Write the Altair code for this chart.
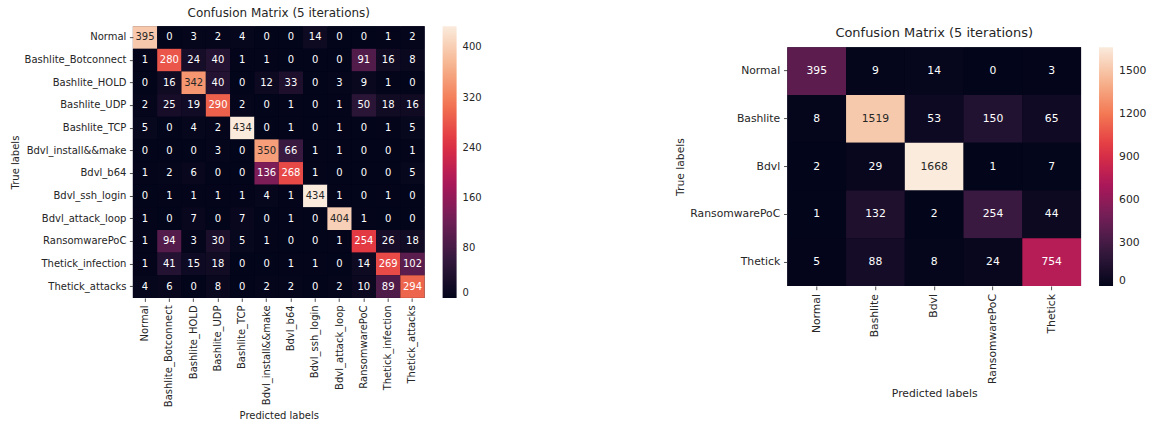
import altair as alt
import pandas as pd

FONT = "DejaVu Sans"
INK = "#262626"

# Fine-grained classes (12 x 12)
fine_labels = [
    "Normal", "Bashlite_Botconnect", "Bashlite_HOLD", "Bashlite_UDP",
    "Bashlite_TCP", "Bdvl_install&&make", "Bdvl_b64", "Bdvl_ssh_login",
    "Bdvl_attack_loop", "RansomwarePoC", "Thetick_infection", "Thetick_attacks",
]
fine_counts = [
    [395, 0, 3, 2, 4, 0, 0, 14, 0, 0, 1, 2],
    [1, 280, 24, 40, 1, 1, 0, 0, 0, 91, 16, 8],
    [0, 16, 342, 40, 0, 12, 33, 0, 3, 9, 1, 0],
    [2, 25, 19, 290, 2, 0, 1, 0, 1, 50, 18, 16],
    [5, 0, 4, 2, 434, 0, 1, 0, 1, 0, 1, 5],
    [0, 0, 0, 3, 0, 350, 66, 1, 1, 0, 0, 1],
    [1, 2, 6, 0, 0, 136, 268, 1, 0, 0, 0, 5],
    [0, 1, 1, 1, 1, 4, 1, 434, 1, 0, 1, 0],
    [1, 0, 7, 0, 7, 0, 1, 0, 404, 1, 0, 0],
    [1, 94, 3, 30, 5, 1, 0, 0, 1, 254, 26, 18],
    [1, 41, 15, 18, 0, 0, 1, 1, 0, 14, 269, 102],
    [4, 6, 0, 8, 0, 2, 2, 0, 2, 10, 89, 294],
]
fine_ticks = [0, 80, 160, 240, 320, 400]

# Family-level classes (5 x 5)
family_labels = ["Normal", "Bashlite", "Bdvl", "RansomwarePoC", "Thetick"]
family_counts = [
    [395, 9, 14, 0, 3],
    [8, 1519, 53, 150, 65],
    [2, 29, 1668, 1, 7],
    [1, 132, 2, 254, 44],
    [5, 88, 8, 24, 754],
]
family_ticks = [0, 300, 600, 900, 1200, 1500]

# "rocket" colour ramp sampled at sevenths of the value range
rocket = ["#03051a", "#35193e", "#701f57", "#ad1759",
          "#e13342", "#f37651", "#f6b48f", "#faebdd"]


def long_form(labels, counts):
    rows = []
    for i, t in enumerate(labels):
        for j, p in enumerate(labels):
            rows.append({"true": t, "pred": p, "count": counts[i][j]})
    return pd.DataFrame(rows)


def heatmap(labels, counts, ticks, width, height, fs, title_fs, tick_len):
    df = long_form(labels, counts)
    vmax = max(max(r) for r in counts)
    domain = [vmax * k / 7 for k in range(8)]
    ramp = alt.Scale(domain=domain, range=rocket, interpolate="rgb")

    axis_common = dict(
        domain=False, grid=False, ticks=True, tickSize=tick_len,
        tickWidth=0.8, tickColor=INK, labelPadding=tick_len,
        labelFont=FONT, labelFontSize=fs, labelColor=INK, labelLimit=0,
        labelOverlap=False, titleFont=FONT, titleFontSize=fs,
        titleFontWeight="normal", titleColor=INK, titlePadding=4,
    )
    base = alt.Chart(df).encode(
        x=alt.X("pred:N", sort=labels, title="Predicted labels",
                axis=alt.Axis(labelAngle=270, **axis_common)),
        y=alt.Y("true:N", sort=labels, title="True labels",
                axis=alt.Axis(**axis_common)),
    )
    cells = base.mark_rect().encode(
        color=alt.Color(
            "count:Q",
            scale=ramp,
            legend=alt.Legend(
                title=None, orient="right", direction="vertical",
                gradientLength=height, gradientThickness=14,
                gradientStrokeWidth=0, offset=18, padding=0,
                values=ticks, format="d", labelFont=FONT,
                labelFontSize=fs, labelColor=INK, labelOffset=6,
                labelBaseline="middle", labelOverlap=False,
            ),
        ),
    )
    notes = base.mark_text(font=FONT, fontSize=fs).encode(
        text=alt.Text("count:Q", format="d"),
        color=alt.condition(f"datum.count > {0.75 * vmax}",
                            alt.value(INK), alt.value("white")),
    )
    # dark plot background so cell edges meet without light seams
    return alt.layer(cells, notes).properties(
        width=width, height=height,
        view=alt.ViewBackground(fill=rocket[0], stroke=None),
        title=alt.TitleParams(
            "Confusion Matrix (5 iterations)", font=FONT, fontSize=title_fs,
            fontWeight="normal", color=INK, anchor="middle", frame="group",
            baseline="bottom", offset=-6,
        ),
    )


left = heatmap(fine_labels, fine_counts, fine_ticks, 292, 272, 10, 12, 3.5)
right = heatmap(family_labels, family_counts, family_ticks, 294, 239, 10.8, 13, 3.8)

# empty block that pushes the second matrix down
spacer = alt.Chart(pd.DataFrame({"v": [0]})).mark_point(size=0, opacity=0).encode(
    x=alt.value(0), y=alt.value(0)
).properties(width=1, height=1)

right_col = alt.vconcat(spacer, right, spacing=0).resolve_scale(color="independent")

chart = alt.hconcat(left, right_col, spacing=192).resolve_scale(
    color="independent"
).properties(
    padding={"left": 10, "top": 7, "right": 5, "bottom": 0},
    background="white",
).configure_view(stroke=None)

chart.save("out.html", embed_options={"renderer": "svg", "actions": False})
